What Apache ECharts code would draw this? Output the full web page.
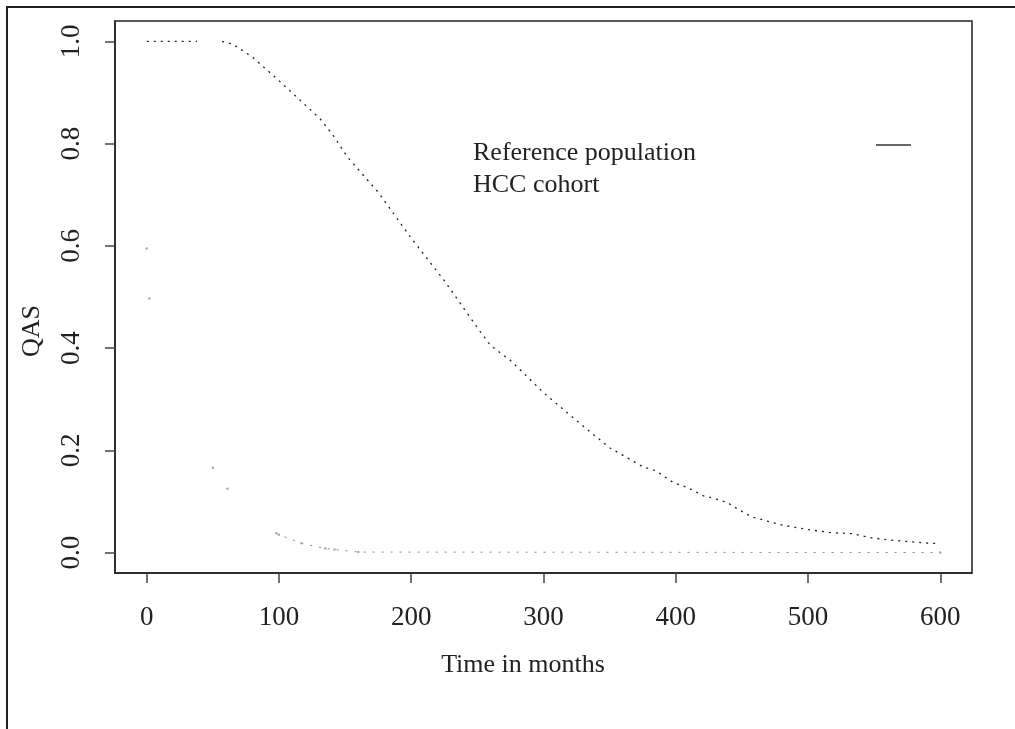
<!DOCTYPE html>
<html lang="en">

<head>
    <meta charset="UTF-8">
    <title>QAS</title>
    <style>
        html, body { margin: 0; padding: 0; background: #fff; }
        #app { width: 1015px; height: 729px; }
    </style>
</head>

<body>
    <div id="app"></div>
</body>
<script src="https://cdn.jsdelivr.net/npm/echarts@6/dist/echarts.min.js"></script>
<script>
    // tick labels
    var xTicks = [0, 100, 200, 300, 400, 500, 600];
    var yTicks = [0, 0.2, 0.4, 0.6, 0.8, 1.0];

    // reference population (null = gap in the curve)
    var refTime = [0, 38, 47, 57, 65, 80, 98, 116, 131, 141, 152, 175, 200, 225, 250, 260, 275, 300, 325, 350,
        375, 385, 398, 409, 421, 429, 439, 445, 453, 459, 470, 482, 500, 517, 533, 548, 560, 573, 593, 600];
    var refQas = [1, 1, null, 1, 0.995, 0.969, 0.928, 0.885, 0.849, 0.816, 0.773, 0.705, 0.615, 0.532, 0.44, 0.405, 0.376, 0.313, 0.258, 0.205,
        0.168, 0.16, 0.137, 0.127, 0.111, 0.106, 0.098, 0.088, 0.076, 0.069, 0.061, 0.053, 0.045, 0.039, 0.037, 0.029, 0.025, 0.022, 0.018, 0.018];

    // HCC cohort
    var hccTime = [0, 1, 2, 25, 50, 55, 61, 80, 98, 100, 117, 135, 142, 160, 600];
    var hccQas = [0.595, null, 0.497, null, 0.166, null, 0.125, null, 0.038, 0.035, 0.018, 0.008, 0.006, 0.001, 0];

    function pairs(xs, ys) {
        return xs.map(function (x, i) {
            return [x, ys[i] === null ? '-' : ys[i]];
        });
    }

    var serif = '"Liberation Serif", "DejaVu Serif", serif';
    var chart = echarts.init(document.getElementById('app'));

    var option = {
        animation: false,
        grid: {
            left: 115,
            top: 21,
            right: 43,
            bottom: 156,
            show: true,
            borderColor: '#222',
            borderWidth: 1.5
        },
        xAxis: {
            type: 'value',
            min: -24,
            max: 624,
            axisLine: { show: true, onZero: false, lineStyle: { color: '#222', width: 1.5 } },
            axisTick: {
                show: true,
                length: 10,
                customValues: xTicks,
                lineStyle: { color: '#444', width: 1.5 }
            },
            axisLabel: {
                customValues: xTicks,
                margin: 31,
                fontFamily: serif,
                fontSize: 27,
                color: '#222'
            },
            splitLine: { show: false }
        },
        yAxis: {
            type: 'value',
            min: -0.04,
            max: 1.04,
            axisLine: { show: true, onZero: false, lineStyle: { color: '#222', width: 1.5 } },
            axisTick: {
                show: true,
                length: 10,
                customValues: yTicks,
                lineStyle: { color: '#444', width: 1.5 }
            },
            axisLabel: {
                customValues: yTicks,
                rotate: 90,
                margin: 30,
                fontFamily: serif,
                fontSize: 27,
                color: '#222',
                formatter: function (v) { return v.toFixed(1); }
            },
            splitLine: { show: false }
        },
        graphic: [
            {
                type: 'polyline',
                shape: { points: [[7, 729], [7, 7], [1015, 7]] },
                style: { stroke: '#222', lineWidth: 2, fill: null }
            },
            {
                type: 'text',
                style: { text: 'Reference population', x: 473, y: 153, verticalAlign: 'middle', font: '26px ' + serif, fill: '#222' }
            },
            {
                type: 'text',
                style: { text: 'HCC cohort', x: 473, y: 185, verticalAlign: 'middle', font: '26px ' + serif, fill: '#222' }
            },
            {
                type: 'line',
                shape: { x1: 876, y1: 145, x2: 911, y2: 145 },
                style: { stroke: '#333', lineWidth: 1.5 }
            },
            {
                type: 'text',
                style: { text: 'Time in months', x: 523, y: 665, align: 'center', verticalAlign: 'middle', font: '26px ' + serif, fill: '#222' }
            },
            {
                type: 'text',
                x: 32,
                y: 331,
                rotation: Math.PI / 2,
                style: { text: 'QAS', x: 0, y: 0, align: 'center', verticalAlign: 'middle', font: '26px ' + serif, fill: '#222' }
            }
        ],
        series: [
            {
                name: 'Reference population',
                type: 'line',
                data: pairs(refTime, refQas),
                showSymbol: false,
                connectNulls: false,
                lineStyle: { color: '#222', width: 1.3, type: [2, 5] }
            },
            {
                name: 'HCC cohort',
                type: 'line',
                data: pairs(hccTime, hccQas),
                showSymbol: true,
                symbol: 'circle',
                symbolSize: 2.5,
                connectNulls: false,
                itemStyle: { color: '#aaa' },
                lineStyle: { color: '#888', width: 1, type: [2, 7] }
            }
        ]
    };
    chart.setOption(option);
</script>

</html>
